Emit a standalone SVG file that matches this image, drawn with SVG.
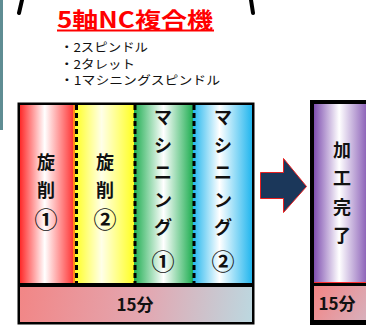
<svg xmlns="http://www.w3.org/2000/svg" width="366" height="327" viewBox="0 0 366 327">
<style>
.t{font-family:"Noto Sans CJK JP","Liberation Sans",sans-serif;font-weight:bold;fill:#111;text-anchor:middle}
.v{font-size:18px}
.c{font-size:23px;font-weight:bold}
.b{font-family:"Noto Sans CJK JP","Liberation Sans",sans-serif;font-size:12px;fill:#111}
.dash{stroke:#000;stroke-width:3;stroke-dasharray:5 3}
</style>
<defs>
<linearGradient id="gRed" x1="0" x2="1" y1="0" y2="0"><stop offset="0" stop-color="#ff2a2a"/><stop offset="0.45" stop-color="#ffffff"/><stop offset="1" stop-color="#ff2a2a"/></linearGradient>
<linearGradient id="gYel" x1="0" x2="1" y1="0" y2="0"><stop offset="0" stop-color="#ffff22"/><stop offset="0.45" stop-color="#ffffe8"/><stop offset="1" stop-color="#ffff22"/></linearGradient>
<linearGradient id="gGrn" x1="0" x2="1" y1="0" y2="0"><stop offset="0" stop-color="#1fae52"/><stop offset="0.5" stop-color="#ffffff"/><stop offset="1" stop-color="#1fae52"/></linearGradient>
<linearGradient id="gBlu" x1="0" x2="1" y1="0" y2="0"><stop offset="0" stop-color="#22b6ee"/><stop offset="0.45" stop-color="#ffffff"/><stop offset="1" stop-color="#22b6ee"/></linearGradient>
<linearGradient id="gPur" x1="0" x2="1" y1="0" y2="0"><stop offset="0" stop-color="#7f4fb0"/><stop offset="0.45" stop-color="#ffffff"/><stop offset="1" stop-color="#7f4fb0"/></linearGradient>
<linearGradient id="gPink" gradientUnits="userSpaceOnUse" x1="20" y1="287" x2="252" y2="322"><stop offset="0" stop-color="#f28686"/><stop offset="0.55" stop-color="#e2a8b2"/><stop offset="1" stop-color="#bcd8e0"/></linearGradient>
<linearGradient id="gPink2" gradientUnits="userSpaceOnUse" x1="314" y1="286" x2="366" y2="320"><stop offset="0" stop-color="#f48484"/><stop offset="1" stop-color="#d8b0bc"/></linearGradient>
</defs>
<rect x="0" y="0" width="3" height="130" fill="#5f8d93"/>
<path d="M22 0 L19 13" stroke="#000" stroke-width="4" fill="none" stroke-linecap="round"/>
<path d="M251 0 L253 13" stroke="#000" stroke-width="4" fill="none" stroke-linecap="round"/>
<g id="title">
<text x="57" y="28" font-family="Noto Sans CJK JP, Liberation Sans, sans-serif" font-weight="bold" font-size="22" fill="#ff0000" textLength="156" lengthAdjust="spacingAndGlyphs">5軸NC複合機</text>
<rect x="57" y="29.5" width="157" height="2" fill="#ff0000"/>
</g>
<g id="bullets">
<text class="b" x="60" y="52" textLength="88" lengthAdjust="spacingAndGlyphs">・2スピンドル</text>
<text class="b" x="60" y="68.5" textLength="75" lengthAdjust="spacingAndGlyphs">・2タレット</text>
<text class="b" x="60" y="85" textLength="160" lengthAdjust="spacingAndGlyphs">・1マシニングスピンドル</text>
</g>
<g id="machine">
<rect x="17.5" y="102.5" width="237" height="222" fill="#000"/>
<rect x="20" y="105" width="55" height="178" fill="url(#gRed)"/>
<rect x="75" y="105" width="59" height="178" fill="url(#gYel)"/>
<rect x="134" y="105" width="59" height="178" fill="url(#gGrn)"/>
<rect x="193" y="105" width="59" height="178" fill="url(#gBlu)"/>
<rect x="20" y="287" width="232" height="35" fill="url(#gPink)"/>
<line x1="74" y1="105" x2="74" y2="283" stroke="#ffe000" stroke-width="1"/>
<line class="dash" x1="76.5" y1="105" x2="76.5" y2="283"/>
<line class="dash" x1="135" y1="105" x2="135" y2="283"/>
<line class="dash" x1="194" y1="105" x2="194" y2="283"/>
</g>
<g id="col1" class="t v"><text x="46" y="169">旋</text><text x="46" y="197">削</text><text class="c" x="46" y="228">①</text></g>
<g id="col2" class="t v"><text x="105" y="169">旋</text><text x="105" y="197">削</text><text class="c" x="105" y="228">②</text></g>
<g id="col3" class="t v"><text x="163" y="124">マ</text><text x="163" y="152">シ</text><text x="163" y="179">ニ</text><text x="163" y="207">ン</text><text x="163" y="234">グ</text><text class="c" x="163" y="270">①</text></g>
<g id="col4" class="t v"><text x="223" y="124">マ</text><text x="223" y="152">シ</text><text x="223" y="179">ニ</text><text x="223" y="207">ン</text><text x="223" y="234">グ</text><text class="c" x="223" y="270">②</text></g>
<g id="time1"><text class="t" x="135" y="311" font-size="17">15分</text></g>
<g id="connectors">
<path d="M260.5 172.5 H283.5 V158.5 L306.5 186.5 L283.5 212.5 V198.5 H260.5 Z" fill="#1b375a" stroke="#e82020" stroke-width="1"/>
</g>
<g id="done">
<rect x="310" y="100" width="60" height="225" fill="#000"/>
<rect x="314" y="104" width="56" height="178" fill="url(#gPur)"/>
<line x1="314" y1="282.5" x2="370" y2="282.5" stroke="#ff3030" stroke-width="1"/>
<rect x="314" y="286" width="56" height="34" fill="url(#gPink2)"/>
<text class="t v" x="342" y="157">加</text>
<text class="t v" x="342" y="185">工</text>
<text class="t v" x="342" y="214">完</text>
<text class="t v" x="342" y="242">了</text>
<text class="t" x="337" y="310" font-size="17">15分</text>
</g>
</svg>
